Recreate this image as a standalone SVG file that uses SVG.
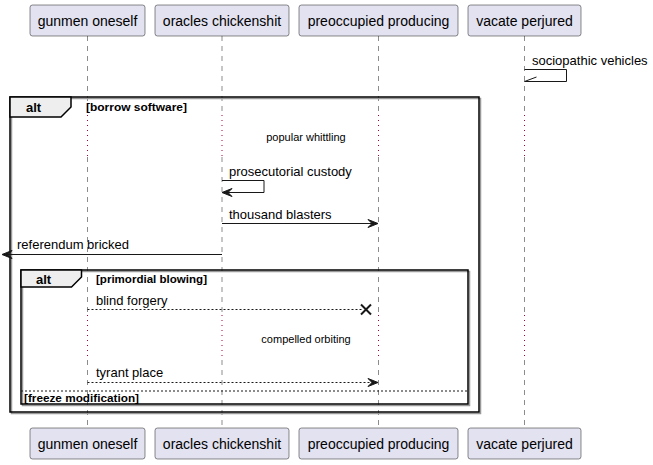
<svg xmlns="http://www.w3.org/2000/svg" width="653" height="465" viewBox="0 0 653 465">
<style>
.pbox{fill:#E2E2F0;stroke:#181818;stroke-width:0.5}
.ptxt{font-family:"Liberation Sans",Arial,sans-serif;font-size:14px;fill:#000}
.life{stroke:#181818;stroke-width:0.5;stroke-dasharray:5,5;fill:none}
.delay{stroke:#A80036;stroke-width:1;stroke-dasharray:1,4;fill:none}
.msg{stroke:#181818;stroke-width:1;fill:none}
.dash{stroke:#181818;stroke-width:1;stroke-dasharray:2,2;fill:none}
.head{fill:#181818;stroke:#181818;stroke-width:1}
.mtxt{font-family:"Liberation Sans",Arial,sans-serif;font-size:13px;fill:#000}
.dtxt{font-family:"Liberation Sans",Arial,sans-serif;font-size:11px;fill:#000}
.gtxt{font-family:"Liberation Sans",Arial,sans-serif;font-size:11px;font-weight:bold;fill:#000}
.atxt{font-family:"Liberation Sans",Arial,sans-serif;font-size:13px;font-weight:bold;fill:#000}
.frame{fill:none;stroke:#000;stroke-width:1.5}
.shadow{fill:none;stroke:#999;stroke-width:1.5}
.tab{fill:#EEEEEE;stroke:#000;stroke-width:1.5}
</style>
<rect width="653" height="465" fill="#FFFFFF"/>
<g id="lifelines">
  <g id="lifeline-gunmen">
    <line class="life" x1="87.5" y1="36" x2="87.5" y2="115"/>
    <line class="delay" x1="87.5" y1="115" x2="87.5" y2="157"/>
    <line class="life" x1="87.5" y1="157" x2="87.5" y2="315"/>
    <line class="delay" x1="87.5" y1="315" x2="87.5" y2="360"/>
    <line class="life" x1="87.5" y1="360" x2="87.5" y2="428"/>
  </g>
  <g id="lifeline-oracles">
    <line class="life" x1="222" y1="36" x2="222" y2="115"/>
    <line class="delay" x1="222" y1="115" x2="222" y2="157"/>
    <line class="life" x1="222" y1="157" x2="222" y2="315"/>
    <line class="delay" x1="222" y1="315" x2="222" y2="360"/>
    <line class="life" x1="222" y1="360" x2="222" y2="428"/>
  </g>
  <g id="lifeline-preoccupied">
    <line class="life" x1="378.5" y1="36" x2="378.5" y2="115"/>
    <line class="delay" x1="378.5" y1="115" x2="378.5" y2="157"/>
    <line class="life" x1="378.5" y1="157" x2="378.5" y2="315"/>
    <line class="delay" x1="378.5" y1="315" x2="378.5" y2="360"/>
    <line class="life" x1="378.5" y1="360" x2="378.5" y2="428"/>
  </g>
  <g id="lifeline-vacate">
    <line class="life" x1="524.5" y1="36" x2="524.5" y2="115"/>
    <line class="delay" x1="524.5" y1="115" x2="524.5" y2="157"/>
    <line class="life" x1="524.5" y1="157" x2="524.5" y2="315"/>
    <line class="delay" x1="524.5" y1="315" x2="524.5" y2="360"/>
    <line class="life" x1="524.5" y1="360" x2="524.5" y2="428"/>
  </g>
</g>
<g id="participants">
  <g id="p-gunmen-top"><rect class="pbox" x="30" y="5" width="115" height="31" rx="2.5"/><text class="ptxt" x="87.5" y="25.5" text-anchor="middle">gunmen oneself</text></g>
  <g id="p-oracles-top"><rect class="pbox" x="155" y="5" width="134" height="31" rx="2.5"/><text class="ptxt" x="222" y="25.5" text-anchor="middle">oracles chickenshit</text></g>
  <g id="p-preoccupied-top"><rect class="pbox" x="299" y="5" width="159" height="31" rx="2.5"/><text class="ptxt" x="378.5" y="25.5" text-anchor="middle">preoccupied producing</text></g>
  <g id="p-vacate-top"><rect class="pbox" x="468" y="5" width="113" height="31" rx="2.5"/><text class="ptxt" x="524.5" y="25.5" text-anchor="middle">vacate perjured</text></g>
  <g id="p-gunmen-bottom"><rect class="pbox" x="30" y="428" width="115" height="31" rx="2.5"/><text class="ptxt" x="87.5" y="448.5" text-anchor="middle">gunmen oneself</text></g>
  <g id="p-oracles-bottom"><rect class="pbox" x="155" y="428" width="134" height="31" rx="2.5"/><text class="ptxt" x="222" y="448.5" text-anchor="middle">oracles chickenshit</text></g>
  <g id="p-preoccupied-bottom"><rect class="pbox" x="299" y="428" width="159" height="31" rx="2.5"/><text class="ptxt" x="378.5" y="448.5" text-anchor="middle">preoccupied producing</text></g>
  <g id="p-vacate-bottom"><rect class="pbox" x="468" y="428" width="113" height="31" rx="2.5"/><text class="ptxt" x="524.5" y="448.5" text-anchor="middle">vacate perjured</text></g>
</g>
<g id="frames">
  <g id="alt-outer">
    <rect class="shadow" x="11.5" y="98.5" width="469" height="315"/>
    <rect class="frame" x="10" y="97" width="469" height="315"/>
    <path class="tab" d="M10,97 L71,97 L71,107 L61,117 L10,117 Z"/>
    <text class="atxt" x="26" y="112">alt</text>
    <text class="gtxt" x="86" y="111" textLength="101" lengthAdjust="spacingAndGlyphs">[borrow software]</text>
  </g>
  <g id="alt-inner">
    <rect class="shadow" x="22.5" y="271.5" width="447" height="134"/>
    <rect class="frame" x="21" y="270" width="447" height="134"/>
    <path class="tab" d="M21,270 L81.5,270 L81.5,277 L71.5,287 L21,287 Z"/>
    <text class="atxt" x="36" y="284">alt</text>
    <text class="gtxt" x="96" y="283" textLength="111" lengthAdjust="spacingAndGlyphs">[primordial blowing]</text>
    <line class="dash" x1="21" y1="391" x2="468" y2="391"/>
    <text class="gtxt" x="24" y="402" textLength="115" lengthAdjust="spacingAndGlyphs">[freeze modification]</text>
  </g>
</g>
<g id="connectors">
  <g id="m-sociopathic">
    <polyline class="msg" points="524.5,69.5 566.5,69.5 566.5,81.5 524.5,81.5"/>
    <line class="msg" x1="524.5" y1="81.5" x2="536.5" y2="77"/>
    <text class="mtxt" x="532" y="65">sociopathic vehicles</text>
  </g>
  <g id="d-popular">
    <text class="dtxt" x="306" y="141" text-anchor="middle">popular whittling</text>
  </g>
  <g id="m-prosecutorial">
    <polyline class="msg" points="222,180.5 264,180.5 264,192.5 223,192.5"/>
    <polygon class="head" points="222,192.5 232,188.5 228,192.5 232,196.5"/>
    <text class="mtxt" x="229" y="176">prosecutorial custody</text>
  </g>
  <g id="m-thousand">
    <line class="msg" x1="222" y1="223.5" x2="377" y2="223.5"/>
    <polygon class="head" points="378,223.5 368,219.5 372,223.5 368,227.5"/>
    <text class="mtxt" x="229" y="219">thousand blasters</text>
  </g>
  <g id="m-referendum">
    <line class="msg" x1="222" y1="254.5" x2="3" y2="254.5"/>
    <polygon class="head" points="2,254.5 12,250.5 8,254.5 12,258.5"/>
    <text class="mtxt" x="17" y="249">referendum bricked</text>
  </g>
  <g id="m-blind">
    <line class="dash" x1="87.5" y1="309.5" x2="362" y2="309.5"/>
    <line stroke="#181818" stroke-width="2" x1="361" y1="304.5" x2="371" y2="314.5"/>
    <line stroke="#181818" stroke-width="2" x1="371" y1="304.5" x2="361" y2="314.5"/>
    <text class="mtxt" x="96" y="305">blind forgery</text>
  </g>
  <g id="d-compelled">
    <text class="dtxt" x="306" y="343" text-anchor="middle">compelled orbiting</text>
  </g>
  <g id="m-tyrant">
    <line class="dash" x1="87.5" y1="382.5" x2="376" y2="382.5"/>
    <polygon class="head" points="378,382.5 368,378.5 372,382.5 368,386.5"/>
    <text class="mtxt" x="96" y="377">tyrant place</text>
  </g>
</g>
</svg>
